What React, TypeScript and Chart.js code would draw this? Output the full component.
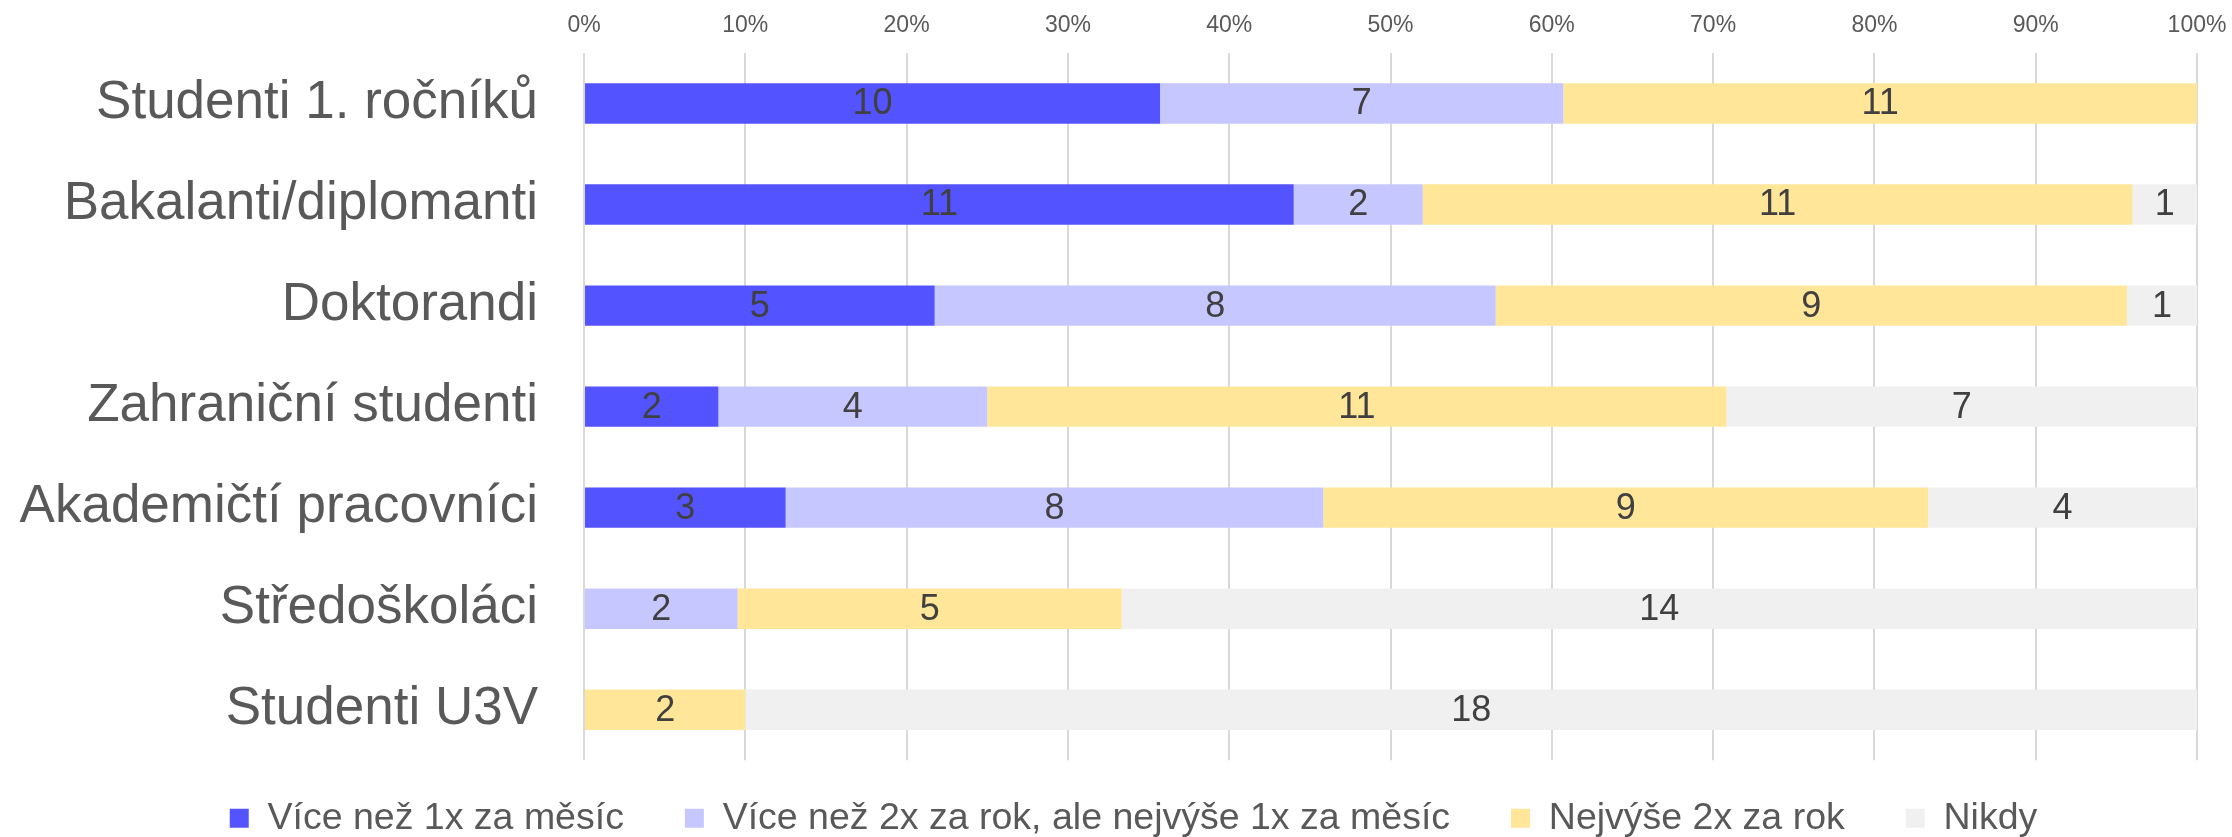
import React, { useEffect, useRef } from "react";
import { Chart, registerables } from "chart.js";

Chart.register(...registerables);

const categories = [
  "Studenti 1. ročníků",
  "Bakalanti/diplomanti",
  "Doktorandi",
  "Zahraniční studenti",
  "Akademičtí pracovníci",
  "Středoškoláci",
  "Studenti U3V",
];

const seriesNames = [
  "Více než 1x za měsíc",
  "Více než 2x za rok, ale nejvýše 1x za měsíc",
  "Nejvýše 2x za rok",
  "Nikdy",
];

const moreThanMonthly = [10, 11, 5, 2, 3, 0, 0];
const moreThanTwiceYear = [7, 2, 8, 4, 8, 2, 0];
const atMostTwiceYear = [11, 11, 9, 11, 9, 5, 2];
const never = [0, 1, 1, 7, 4, 14, 18];

const seriesColors = ["#5353FF", "#C7C7FF", "#FFE699", "#F0F0F0"];

const xTicks = [0, 10, 20, 30, 40, 50, 60, 70, 80, 90, 100];

const FONT = "'Liberation Sans', Arial, Helvetica, sans-serif";

export default function App() {
  const canvasRef = useRef<HTMLCanvasElement | null>(null);

  useEffect(() => {
    const counts = [moreThanMonthly, moreThanTwiceYear, atMostTwiceYear, never];
    const totals = categories.map((_, i) =>
      counts.reduce((s, arr) => s + arr[i], 0)
    );
    const datasets = counts.map((arr, k) => ({
      label: seriesNames[k],
      data: arr.map((v, i) => (v / totals[i]) * 100),
      counts: arr,
      backgroundColor: seriesColors[k],
      borderWidth: 0,
      barPercentage: 0.4,
      categoryPercentage: 1,
    }));

    const labelPlugin = {
      id: "countLabels",
      afterDatasetsDraw(chart: any) {
        const ctx = chart.ctx;
        ctx.save();
        ctx.font = `36px ${FONT}`;
        ctx.fillStyle = "#404040";
        ctx.textAlign = "center";
        ctx.textBaseline = "middle";
        chart.data.datasets.forEach((ds: any, di: number) => {
          const meta = chart.getDatasetMeta(di);
          meta.data.forEach((el: any, i: number) => {
            const c = ds.counts[i];
            if (!c) return;
            const p = el.getCenterPoint();
            ctx.fillText(String(c), p.x, p.y + 1);
          });
        });
        ctx.restore();
      },
    };

    const chart = new Chart(canvasRef.current as HTMLCanvasElement, {
      type: "bar",
      data: { labels: categories, datasets: datasets as any },
      options: {
        indexAxis: "y",
        animation: false,
        responsive: true,
        maintainAspectRatio: false,
        layout: { padding: { left: 0, right: -35, top: 0, bottom: 0 } },
        scales: {
          x: {
            position: "top",
            stacked: true,
            min: 0,
            max: 100,
            afterBuildTicks(scale: any) {
              scale.ticks = xTicks.map((v) => ({ value: v }));
            },
            afterFit(scale: any) {
              scale.height = 53;
              scale.paddingLeft = 0;
              scale.paddingRight = 35;
            },
            grid: { color: "#D9D9D9", lineWidth: 2, drawTicks: false },
            border: { display: false },
            ticks: {
              padding: 14,
              color: "#595959",
              font: { family: FONT, size: 23 },
              callback: (v: any) => v + "%",
            },
          },
          y: {
            stacked: true,
            afterFit(scale: any) {
              scale.width = 584;
              scale.paddingTop = 0;
              scale.paddingBottom = 0;
            },
            grid: { display: false, drawTicks: false },
            border: { display: false },
            ticks: {
              padding: 46,
              color: "#595959",
              font: { family: FONT, size: 53 },
            },
          },
        },
        plugins: {
          legend: {
            position: "bottom",
            title: {
              display: true,
              text: "",
              font: { size: 1 },
              padding: { top: -22.95, bottom: 0 },
            },
            labels: {
              boxWidth: 19,
              boxHeight: 19,
              padding: 61,
              color: "#595959",
              font: { family: FONT, size: 37.5 },
            },
          },
          tooltip: { enabled: false },
        },
      },
      plugins: [labelPlugin],
    });
    return () => chart.destroy();
  }, []);

  return (
    <div
      style={{
        position: "fixed",
        left: 0,
        top: 0,
        width: 2232,
        height: 837,
        overflow: "hidden",
        background: "#fff",
      }}
    >
      <div style={{ position: "relative", width: 2232, height: 847 }}>
        <canvas ref={canvasRef} />
      </div>
    </div>
  );
}
